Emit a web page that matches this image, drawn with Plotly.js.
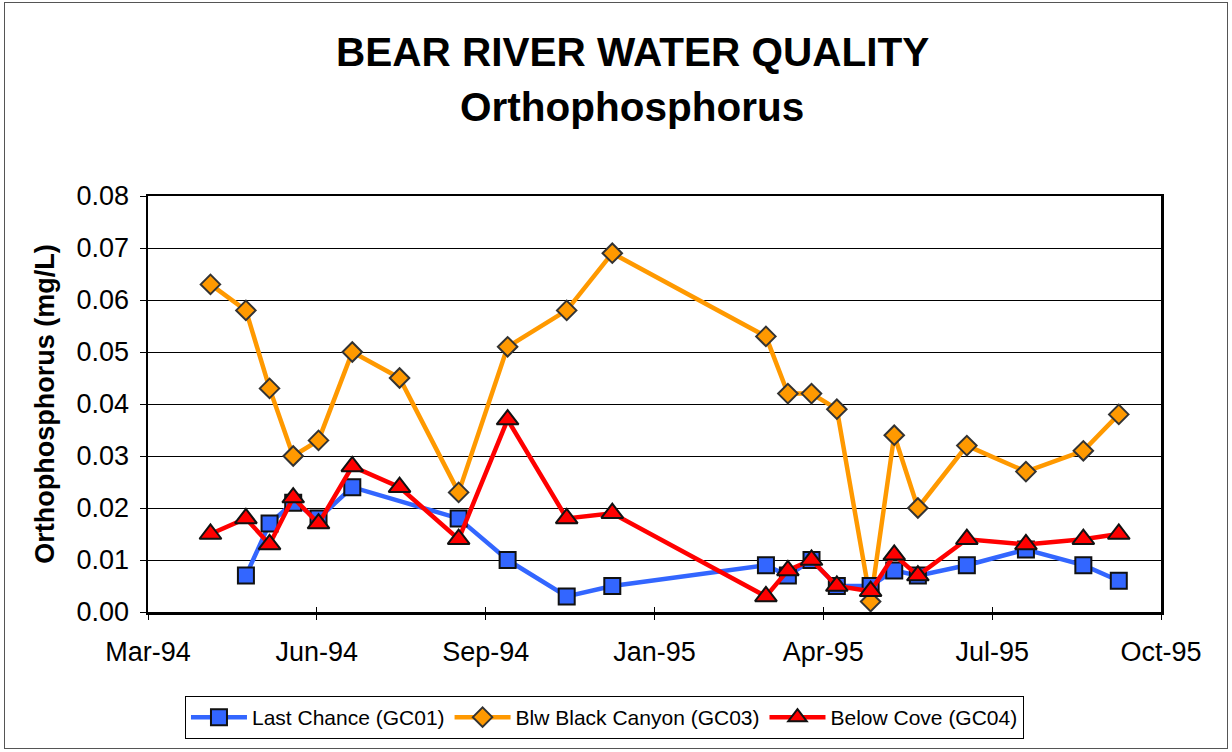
<!DOCTYPE html>
<html><head><meta charset="utf-8">
<script src="https://cdn.plot.ly/plotly-3.0.1.min.js"></script>
<style>
html,body{margin:0;padding:0;background:#fff;}
#chart{width:1232px;height:752px;}
#frame{position:absolute;left:4px;top:2px;width:1222px;height:745px;border:1px solid #555;pointer-events:none;}
</style>
</head><body>
<div id="chart"></div><div id="frame"></div>
<script>
const sampleDates = ['1994-04-13','1994-05-04','1994-05-18','1994-06-01','1994-06-16','1994-07-06','1994-08-03','1994-09-07','1994-10-06','1994-11-10','1994-12-07','1995-03-08','1995-03-21','1995-04-04','1995-04-19','1995-05-09','1995-05-23','1995-06-06','1995-07-05','1995-08-09','1995-09-12','1995-10-03'];
const lastChance = [null,0.007,0.017,0.021,0.018,0.024,null,0.018,0.010,0.003,0.005,0.009,0.007,0.010,0.005,0.005,0.008,0.007,0.009,0.012,0.009,0.006];
const blwBlackCanyon = [0.063,0.058,0.043,0.030,0.033,0.050,0.045,0.023,0.051,0.058,0.069,0.053,0.042,0.042,0.039,0.002,0.034,0.020,0.032,0.027,0.031,0.038];
const belowCove = [0.015,0.018,0.013,0.022,0.017,0.028,0.024,0.014,0.037,0.018,0.019,0.003,0.008,0.010,0.005,0.004,0.011,0.007,0.014,0.013,0.014,0.015];
const tickDates = ['1994-03-07','1994-06-15','1994-09-23','1995-01-01','1995-04-11','1995-07-20','1995-10-28'];
const tickLabels = ['Mar-94','Jun-94','Sep-94','Jan-95','Apr-95','Jul-95','Oct-95'];
const seriesNames = ['Last Chance (GC01)','Blw Black Canyon (GC03)','Below Cove (GC04)'];

const FONT = 'Liberation Sans, Arial, sans-serif';

const traces = [
  {x: sampleDates, y: blwBlackCanyon, name: seriesNames[1], type: 'scatter', mode: 'lines+markers', legendrank: 2,
   line: {color: '#FF9900', width: 4.5}, marker: {symbol: 'diamond', size: 15, color: '#FF9900', line: {color: '#333333', width: 2}}},
  {x: sampleDates, y: lastChance, name: seriesNames[0], type: 'scatter', mode: 'lines+markers', connectgaps: true, legendrank: 1,
   line: {color: '#3366FF', width: 4.5}, marker: {symbol: 'square', size: 16, color: '#3366FF', line: {color: '#111111', width: 2}}},
  {x: sampleDates, y: belowCove, name: seriesNames[2], type: 'scatter', mode: 'lines+markers', legendrank: 3,
   line: {color: '#FF0000', width: 4.5}, marker: {symbol: 'triangle-up', size: 19, color: '#FF0000', line: {color: '#111111', width: 2}}},
  {x: [tickDates[0]], y: [0], xaxis: 'x2', type: 'scatter', mode: 'markers', showlegend: false, hoverinfo: 'skip',
   marker: {opacity: 0}}
];

const layout = {
  width: 1232, height: 752,
  margin: {l: 148, r: 71, t: 196, b: 140},
  paper_bgcolor: '#fff', plot_bgcolor: '#fff',
  font: {family: FONT, color: '#000'},
  showlegend: true,
  xaxis: {
    type: 'date', range: [tickDates[0], tickDates[tickDates.length - 1]],
    tickmode: 'array', tickvals: tickDates, ticktext: tickLabels,
    ticks: 'outside', ticklen: 5, tickwidth: 1, tickcolor: '#000',
    tickfont: {size: 27, family: FONT}, ticklabelstandoff: 9,
    showgrid: false, zeroline: false,
    showline: true, mirror: true, linecolor: '#000', linewidth: 2.5
  },
  xaxis2: {
    type: 'date', overlaying: 'x', matches: 'x', anchor: 'y', side: 'bottom',
    range: [tickDates[0], tickDates[tickDates.length - 1]],
    tickmode: 'array', tickvals: tickDates, ticktext: tickLabels,
    ticks: 'inside', ticklen: 5, tickwidth: 1, tickcolor: '#000',
    showticklabels: false, showgrid: false, zeroline: false, showline: false
  },
  yaxis: {
    range: [0, 0.08], dtick: 0.01, tick0: 0, tickformat: '.2f',
    ticks: 'outside', ticklen: 6, tickwidth: 1, tickcolor: '#000',
    tickfont: {size: 27, family: FONT}, ticklabelstandoff: 5,
    showgrid: true, gridcolor: '#000', gridwidth: 1, zeroline: false,
    showline: true, mirror: true, linecolor: '#000', linewidth: 2.5,
    title: {text: 'Orthophosphorus (mg/L)', font: {size: 27, family: FONT, weight: 'bold'}, standoff: 14}
  },
  legend: {
    orientation: 'h', x: 0.0365, y: -0.2536, xanchor: 'left', yanchor: 'middle',
    bgcolor: '#fff', bordercolor: '#000', borderwidth: 1,
    font: {size: 21, family: FONT}, itemwidth: 56, traceorder: 'normal'
  },
  annotations: [
    {text: '<b>BEAR RIVER WATER QUALITY</b>', xref: 'paper', yref: 'paper', x: 0.478, y: 1.347,
     xanchor: 'center', yanchor: 'middle', showarrow: false, font: {size: 40.5, family: FONT}},
    {text: '<b>Orthophosphorus</b>', xref: 'paper', yref: 'paper', x: 0.478, y: 1.214,
     xanchor: 'center', yanchor: 'middle', showarrow: false, font: {size: 40.5, family: FONT}}
  ]
};

Plotly.newPlot('chart', traces, layout, {staticPlot: true, displayModeBar: false});
</script>
</body></html>
